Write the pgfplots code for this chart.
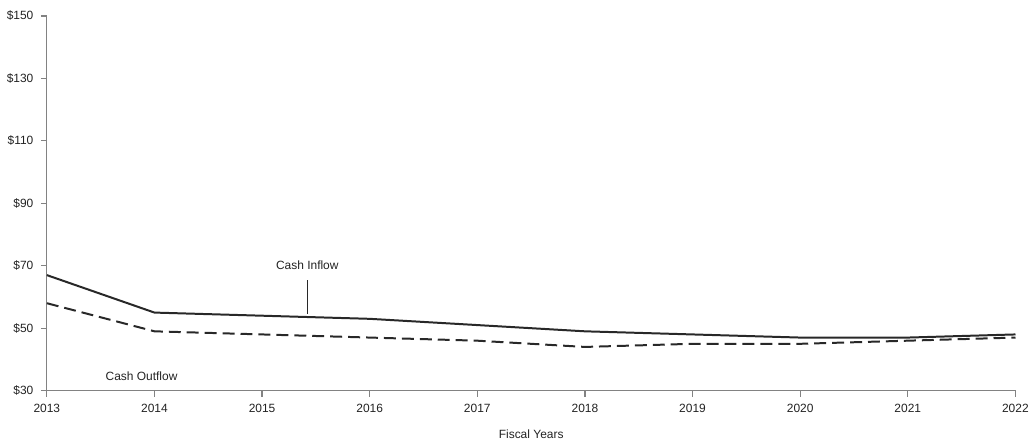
\documentclass[border=0pt]{standalone}
\usepackage{pgfplots}
\pgfplotsset{compat=1.18}
\usepackage{fontspec}
\setmainfont{Liberation Sans}
\definecolor{axgray}{RGB}{130,130,130}
\definecolor{linegray}{RGB}{40,40,40}
\definecolor{txtgray}{RGB}{35,35,35}
\begin{document}
\begin{tikzpicture}
\begin{axis}[
  scale only axis,
  width=972pt, height=376pt,
  xmin=2013, xmax=2022, ymin=30, ymax=150,
  xtick={2013,...,2022},
  ytick={30,50,70,90,110,130,150},
  yticklabel={\$\pgfmathprintnumber{\tick}},
  x tick label style={/pgf/number format/1000 sep={}, yshift=-4pt},
  y tick label style={xshift=-4pt},
  /pgf/number format/assume math mode=true,
  axis x line*=bottom, axis y line*=left,
  axis line style={axgray, line width=1.2pt, -},
  tick align=outside,
  major tick length=6pt,
  major tick style={draw=axgray, line width=1.2pt},
  ticklabel style={font=\fontsize{12}{14}\selectfont, text=txtgray},
  xlabel={Fiscal Years},
  xlabel style={font=\fontsize{12}{14}\selectfont, text=txtgray, yshift=-10pt},
  clip=false,
]
\addplot[linegray, line width=2pt] coordinates {
 (2013,67) (2014,55) (2015,54) (2016,53) (2017,51) (2018,49) (2019,48) (2020,47) (2021,47) (2022,48)};
\addplot[linegray, line width=2pt, dash pattern=on 12pt off 6pt] coordinates {
 (2013,58) (2014,49) (2015,48) (2016,47) (2017,46) (2018,44) (2019,45) (2020,45) (2021,46) (2022,47)};
\draw[linegray, line width=1.5pt] (axis cs:2015.42,54.6) -- (axis cs:2015.42,65.5);
\node[font=\fontsize{12}{14}\selectfont, text=txtgray] at (axis cs:2015.42,70.2) {Cash Inflow};
\node[font=\fontsize{12}{14}\selectfont, text=txtgray] at (axis cs:2013.88,34.5) {Cash Outflow};
\end{axis}
\path (current axis.south west) ++(-47pt,-51pt) coordinate (bl);
\path (current axis.north east) ++(13pt,16pt) coordinate (tr);
\useasboundingbox (bl) rectangle (tr);
\end{tikzpicture}
\end{document}
